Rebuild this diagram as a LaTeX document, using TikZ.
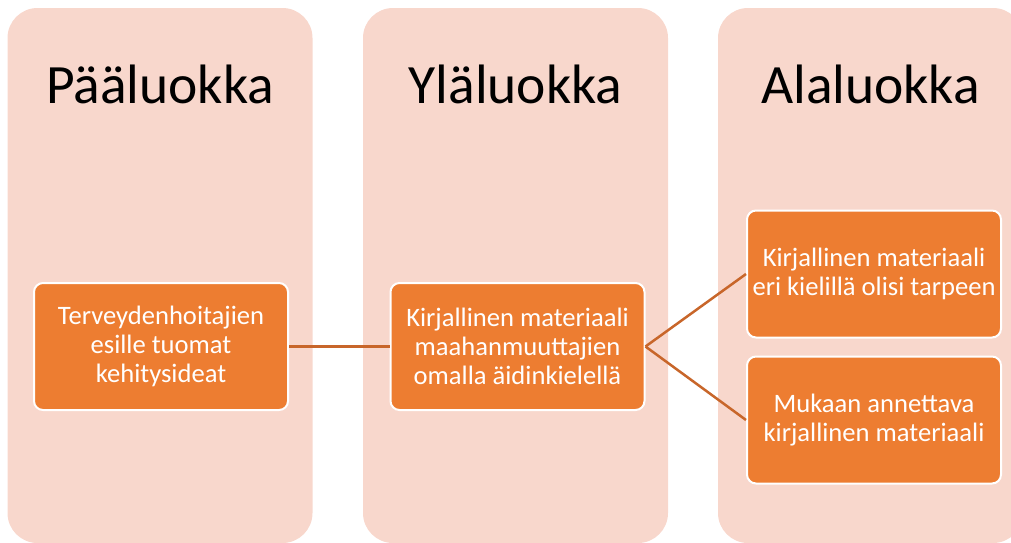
\documentclass[tikz,border=0pt]{standalone}
\usepackage{fontspec}
\setmainfont{Carlito}
\usepackage{xcolor}
\usepackage{tikz}
\usetikzlibrary{positioning}

\definecolor{colpink}{HTML}{F8D7CC}
\definecolor{boxorange}{HTML}{ED7D31}
\definecolor{linkorange}{HTML}{C8662A}

\begin{document}
\begin{tikzpicture}[x=1pt, y=-1pt,
    column/.style={rectangle, rounded corners=30pt, fill=colpink, draw=none, minimum width=305pt, minimum height=535pt, inner sep=0pt},
    title/.style={anchor=base, font=\fontsize{55.5}{62}\selectfont},
    idea/.style={rectangle, rounded corners=9pt, fill=boxorange, draw=white, line width=2pt, minimum width=254pt, minimum height=127pt, inner sep=2pt, align=center, text=white, font=\fontsize{26.6}{28.8}\selectfont},
    link/.style={draw=linkorange, line width=2.5pt}
]
\useasboundingbox (0,0) rectangle (1011,542);
\begin{scope}
\clip (0,0) rectangle (1011,542);

\node[column] (paa) at (160,275.5) {};
\node[column] (yla) at (515.5,275.5) {};
\node[column] (ala) at (870.5,275.5) {};

\node[title] (paat) at (160,103) {Pääluokka};
\node[title] (ylat) at (515.5,103) {Yläluokka};
\node[title] (alat) at (870.5,103) {Alaluokka};

\node[idea] (terv) at (161,346.5) {Terveydenhoitajien\\esille tuomat\\kehitysideat};
\node[idea] (kirj) at (517.5,346.5) {Kirjallinen materiaali\\maahanmuuttajien\\omalla äidinkielellä};
\node[idea] (kiel) at (874,274) {Kirjallinen materiaali\\eri kielillä olisi tarpeen};
\node[idea] (muk) at (874,420) {Mukaan annettava\\kirjallinen materiaali};

\draw[link] (terv.east) -- (kirj.west);
\draw[link] (kirj.east) -- (kiel.west);
\draw[link] (kirj.east) -- (muk.west);
\end{scope}

\end{tikzpicture}
\end{document}
